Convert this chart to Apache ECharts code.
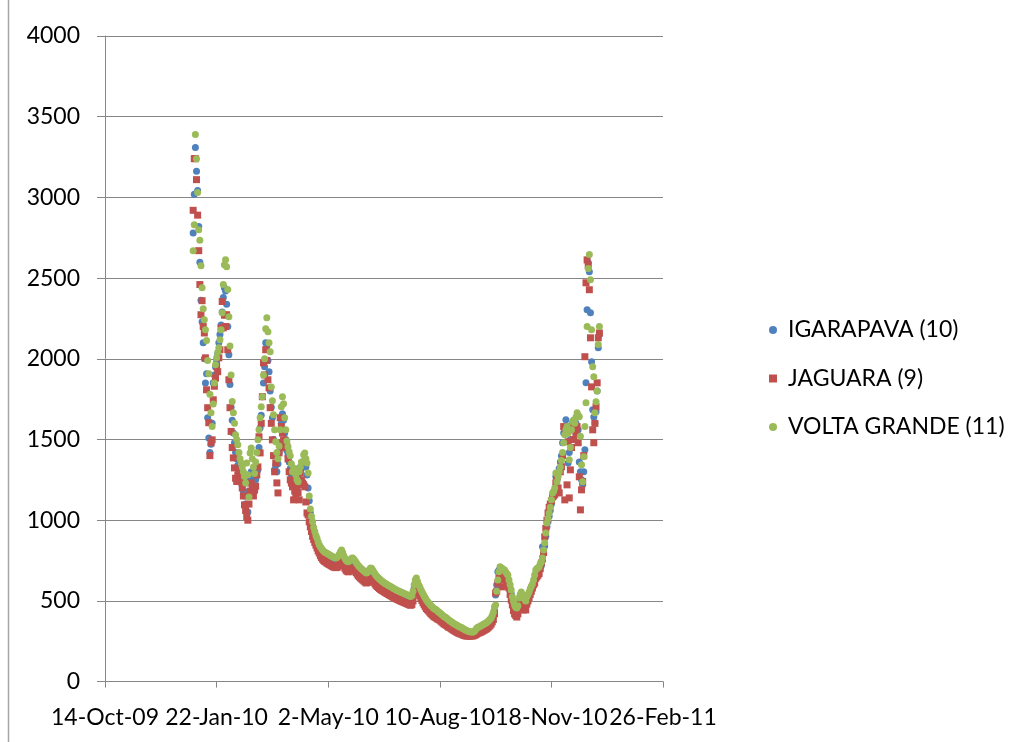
<!DOCTYPE html>
<html>
<head>
<meta charset="utf-8">
<script src="https://cdn.jsdelivr.net/npm/echarts/dist/echarts.min.js"></script>
<style>
html,body{margin:0;padding:0;background:#ffffff;}
#chart{width:1027px;height:742px;}
</style>
</head>
<body>
<div id="chart"></div>
<script>
// x positions are days counted from 14-Oct-09; 1-Jan-10 is day 79, one point per day through 31-Dec-10
const firstDay = 79;
const xTickLabels = ['14-Oct-09', '22-Jan-10', '2-May-10', '10-Aug-10', '18-Nov-10', '26-Feb-11'];
const seriesNames = ['IGARAPAVA (10)', 'JAGUARA (9)', 'VOLTA GRANDE (11)'];

const igarapava = [
2780,3020,3309,3162,3043,2820,2598,2362,2230,2100,
2000,1850,1907,1635,1510,1420,1470,1600,1852,1900,
1950,1980,2030,2100,2150,2210,2290,2380,2440,2420,
2338,2200,2025,1840,1700,1620,1540,1480,1420,1380,
1340,1300,1270,1240,1210,1180,1150,1100,1230,1051,
1180,1250,1300,1260,1210,1180,1250,1300,1312,1450,
1572,1650,1765,1850,1950,2100,2080,1990,1920,1800,
1700,1635,1500,1312,1340,1300,1350,1420,1480,1600,
1660,1620,1540,1500,1430,1400,1360,1320,1280,1230,
1250,1220,1200,1200,1260,1324,1300,1320,1340,1360,
1370,1330,1280,1200,1120,1045,1000,965,930,905,
883,866,843,826,813,803,794,786,780,776,
772,768,764,760,756,752,748,746,744,748,
756,768,783,794,778,758,742,730,724,720,
726,734,742,744,736,726,716,706,696,689,
682,676,670,664,658,651,654,662,672,682,
678,668,656,644,634,627,620,614,608,602,
596,591,586,582,578,574,570,566,562,558,
554,550,546,543,540,536,533,530,527,524,
521,518,515,512,509,506,513,538,578,608,
620,598,578,565,548,534,520,508,496,484,
474,466,458,450,443,436,430,426,422,416,
412,406,400,394,388,382,378,374,368,362,
358,353,348,343,339,335,331,327,323,320,
318,314,310,306,302,299,296,294,292,291,
291,291,295,303,312,318,321,324,328,332,
336,340,344,348,354,360,368,376,392,412,
440,537,600,680,690,700,690,682,676,672,
660,648,638,608,578,545,505,480,455,440,
436,450,495,518,532,518,498,488,478,503,
518,532,552,568,582,608,638,670,678,684,
690,708,720,835,794,840,900,960,990,1025,
1060,1100,1150,1165,1185,1270,1250,1290,1320,1360,
1400,1480,1540,1560,1622,1580,1355,1420,1500,1560,
1600,1620,1580,1600,1640,1560,1361,1300,1250,1219,
1300,1436,1851,2304,2595,2540,2285,1982,1684,1640,
1603,1672,1800,2068,2150
];

const jaguara = [
2920,3240,3240,3110,2890,2670,2460,2273,2360,2200,
2160,2006,1808,1697,1604,1400,1480,1498,1746,1830,
1880,1951,1920,2006,2056,2190,2355,2192,2270,2200,
2273,2056,1870,1697,1550,1450,1386,1324,1260,1240,
1280,1300,1312,1238,1200,1150,1095,1060,1021,1000,
1100,1180,1231,1200,1150,1188,1210,1280,1330,1517,
1417,1600,1765,1975,1900,2056,1990,1870,1820,1697,
1600,1498,1400,1300,1355,1231,1169,1417,1635,1580,
1540,1498,1450,1470,1455,1380,1300,1250,1230,1207,
1126,1180,1150,1207,1170,1126,1293,1250,1230,1220,
1207,1113,1045,1033,990,959,930,900,880,862,
845,828,810,797,780,768,758,750,744,740,
734,730,726,722,718,714,710,708,706,708,
716,726,740,752,738,718,702,690,684,680,
686,694,702,704,696,686,676,666,656,649,
642,636,630,624,618,611,614,622,632,642,
638,628,616,605,596,589,583,577,571,566,
563,558,553,549,545,541,537,533,529,525,
521,517,513,510,507,503,500,497,494,491,
488,485,482,479,476,473,478,500,545,575,
588,566,546,533,516,502,488,476,464,452,
446,438,430,422,415,408,402,398,394,388,
387,381,375,369,363,357,353,349,343,337,
335,330,325,320,316,312,308,304,300,297,
296,292,289,286,284,283,283,283,283,283,
283,284,288,290,295,300,302,305,308,312,
316,320,324,328,334,340,348,356,370,385,
420,549,560,610,640,650,640,587,630,640,
630,610,600,580,540,505,475,440,420,410,
400,420,460,490,500,470,444,460,444,480,
500,520,540,560,580,600,611,640,650,660,
670,700,735,760,800,897,950,1000,1045,1080,
1100,1120,1144,1150,1160,1231,1269,1200,1169,1300,
1331,1400,1580,1126,1548,1219,1486,1138,1312,1450,
1580,1500,1560,1541,1580,1480,1269,1064,1188,1240,
1400,2013,2471,2613,2580,2428,2130,1826,1560,1480,
1600,1703,1851,2130,2160
];

const voltaGrande = [
2670,2830,3390,3240,3030,2800,2734,2577,2440,2310,
2242,2180,2114,1990,1907,1780,1665,1580,1720,1850,
1963,2006,2040,2069,2118,2180,2285,2460,2583,2614,
2570,2430,2260,2080,1900,1735,1665,1600,1529,1500,
1467,1420,1380,1355,1330,1300,1270,1230,1355,1281,
1144,1417,1448,1380,1330,1290,1360,1420,1498,1560,
1635,1703,1765,1900,2000,2186,2255,2168,2100,2043,
1826,1740,1653,1560,1486,1420,1380,1460,1560,1703,
1765,1721,1635,1560,1490,1455,1424,1400,1350,1300,
1324,1300,1281,1250,1238,1300,1330,1360,1361,1405,
1416,1380,1355,1293,1150,1070,1025,990,955,930,
905,888,865,848,835,825,816,808,802,798,
794,790,786,782,778,774,770,768,766,770,
778,790,805,816,800,780,764,752,746,742,
748,756,764,766,758,748,738,728,718,711,
704,698,692,686,680,673,676,684,694,704,
700,690,678,666,656,649,642,636,630,624,
618,613,608,604,600,596,592,588,584,580,
576,572,568,565,562,558,555,552,549,546,
543,540,537,534,531,528,535,560,600,630,
642,620,600,587,570,556,542,530,518,506,
496,488,480,472,465,458,452,448,444,438,
432,426,420,414,408,402,398,394,388,382,
377,372,367,362,358,354,350,346,342,339,
336,332,328,324,320,316,313,311,309,308,
308,308,312,320,330,336,339,342,346,350,
354,358,362,366,372,378,386,394,410,430,
463,475,560,630,680,711,705,700,695,692,
680,670,661,630,600,568,525,500,475,460,
456,470,518,540,555,540,520,510,500,525,
540,555,575,590,605,630,660,692,700,705,
711,730,742,766,816,860,921,983,1010,1045,
1080,1126,1169,1180,1200,1293,1238,1270,1300,1330,
1370,1420,1480,1530,1560,1580,1540,1374,1450,1560,
1610,1620,1600,1640,1665,1650,1641,1520,1343,1238,
1393,1580,1727,2200,2560,2646,2490,2180,1951,1889,
1665,1734,1800,2088,2200
];

const seriesColors = ['#4F81BD', '#C0504D', '#9BBB59'];
const seriesSymbols = ['circle', 'rect', 'circle'];
const seriesValues = [igarapava, jaguara, voltaGrande];

function toPoints(values) {
  return values.map(function (v, i) { return [firstDay + i, v]; });
}

const FONT = 'Lato';
const chart = echarts.init(document.getElementById('chart'), null, { renderer: 'canvas' });

chart.setOption({
  animation: false,
  backgroundColor: '#ffffff',
  grid: { left: 105, right: 364, top: 36, bottom: 60.4 },
  xAxis: {
    type: 'value', min: 0, max: 500, interval: 100,
    axisLine: { show: true, onZero: false, lineStyle: { color: '#868686', width: 1 } },
    axisTick: { show: true, length: 6, lineStyle: { color: '#868686' } },
    splitLine: { show: false },
    axisLabel: {
      color: '#000000', fontFamily: FONT, fontSize: 23, margin: 24, hideOverlap: false,
      formatter: function (v) { return xTickLabels[Math.round(v / 100)]; }
    }
  },
  yAxis: {
    type: 'value', min: 0, max: 4000, interval: 500,
    axisLine: { show: true, lineStyle: { color: '#868686', width: 1 } },
    axisTick: { show: true, length: 8, lineStyle: { color: '#868686' } },
    splitLine: { show: true, lineStyle: { color: '#868686', width: 1 } },
    axisLabel: {
      color: '#000000', fontFamily: FONT, fontSize: 23, margin: 25,
      formatter: function (v) { return String(v); }
    }
  },
  legend: {
    orient: 'vertical', left: 764, top: 313,
    itemWidth: 8, itemHeight: 8, itemGap: 24.5,
    textStyle: { color: '#000000', fontFamily: FONT, fontSize: 23, lineHeight: 24, padding: [0, 0, 0, 6] },
    data: seriesNames.map(function (n, i) { return { name: n, icon: seriesSymbols[i] }; })
  },
  graphic: [{
    type: 'line', silent: true,
    shape: { x1: 8.5, y1: 0, x2: 8.5, y2: 742 },
    style: { stroke: '#a6a6a6', lineWidth: 1.5 }
  }],
  series: seriesNames.map(function (n, i) {
    return {
      name: n, type: 'scatter',
      symbol: seriesSymbols[i], symbolSize: 7,
      itemStyle: { color: seriesColors[i], opacity: 1 },
      data: toPoints(seriesValues[i])
    };
  })
});
</script>
</body>
</html>
